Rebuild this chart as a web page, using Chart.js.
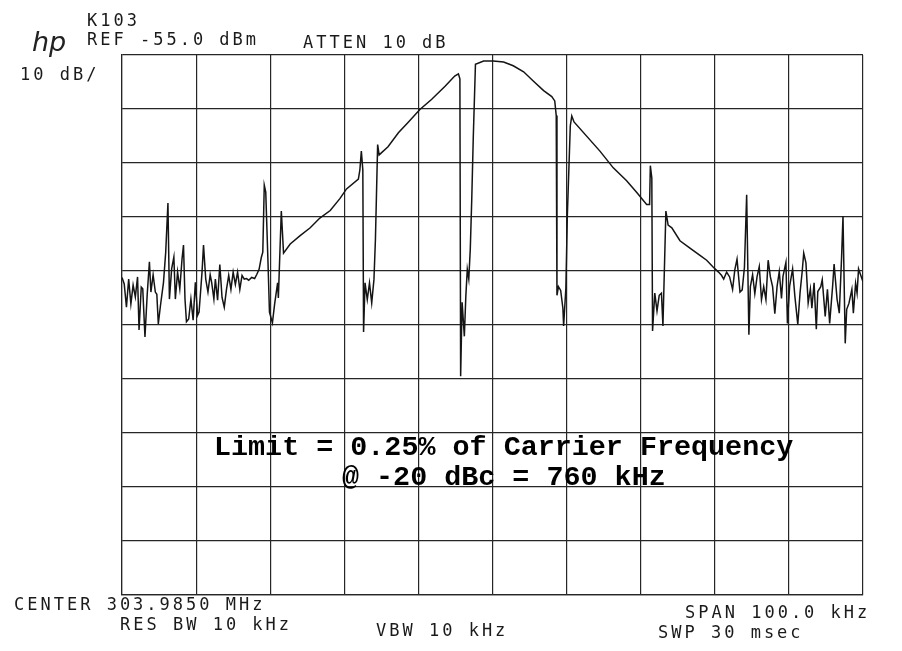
<!DOCTYPE html>
<html>
<head>
<meta charset="utf-8">
<script src="https://cdn.jsdelivr.net/npm/chart.js@4"></script>
<style>
  body { margin: 0; background: #fff; }
  #wrap { position: relative; width: 902px; height: 651px; }
  canvas { position: absolute; left: 0; top: 0; }
  .lbl {
    position: absolute; white-space: pre;
    font-family: "DejaVu Sans Mono", monospace; font-size: 17px;
    letter-spacing: 3px; color: #1a1a1a; line-height: 1;
  }
  .big {
    position: absolute; white-space: pre;
    font-family: "Liberation Mono", "Courier New", monospace; font-weight: bold;
    font-size: 28.4px; color: #000; line-height: 1;
  }
  #hp { position: absolute; left: 32px; top: 26px; font-family: "DejaVu Sans", sans-serif;
        font-style: italic; font-weight: 200; font-size: 27px; color: #222; }
</style>
</head>
<body>
<div id="wrap">
  <canvas id="sa" width="902" height="651"></canvas>
  <div id="hp">hp</div>
  <div class="lbl" style="left:87px;top:12px">K103</div>
  <div class="lbl" style="left:87px;top:31px">REF -55.0 dBm</div>
  <div class="lbl" style="left:303px;top:34px">ATTEN 10 dB</div>
  <div class="lbl" style="left:20px;top:66px">10 dB/</div>
  <div class="lbl" style="left:14px;top:596px">CENTER 303.9850 MHz</div>
  <div class="lbl" style="left:120px;top:616px">RES BW 10 kHz</div>
  <div class="lbl" style="left:376px;top:622px">VBW 10 kHz</div>
  <div class="lbl" style="left:685px;top:604px">SPAN 100.0 kHz</div>
  <div class="lbl" style="left:658px;top:624px">SWP 30 msec</div>
  <div class="big" style="left:214px;top:434px">Limit = 0.25% of Carrier Frequency</div>
  <div class="big" style="left:342px;top:464px">@ -20 dBc = 760 kHz</div>
</div>
<script>
// ---- Messwerte (Offset zur Mittenfrequenz in kHz, Pegel in dBm) ----
const REF_DBM   = -55;
const DB_PER_DIV = 10;
const SPAN_KHZ  = 100;

const freqKHz = [
  -50, -49.7, -49.4, -49.1, -48.8, -48.5, -48.2, -47.9, -47.7, -47.4,
  -47.2, -46.9, -46.6, -46.3, -46.1, -45.8, -45.5, -45.3, -45.1, -44.8,
  -44.4, -44.1, -43.8, -43.6, -43.3, -43.0, -42.8, -42.5, -42.2, -41.9,
  -41.7, -41.5, -41.3, -41.0, -40.7, -40.4, -40.1, -39.8, -39.6, -39.2,
  -39.0, -38.7, -38.4, -38.1, -37.9, -37.6, -37.4, -37.1, -36.8, -36.5,
  -36.2, -35.9, -35.6, -35.3, -35.0, -34.7, -34.4, -34.1, -33.8, -33.5,
  -33.2, -32.9, -32.5, -32.1, -31.8, -31.5, -31.2, -31.0, -30.8, -30.6,
  -30.3, -30.1, -29.7, -29.4, -29.0, -28.9, -28.5, -28.2,
  -27.3, -26.0, -24.6, -23.3, -21.9, -20.6, -19.7, -18.1, -17.9, -17.7,
  -17.5, -17.4, -17.2, -16.9, -16.6, -16.3, -16.0, -15.8, -15.5, -15.3,
  -14.1, -12.7, -11.4, -9.8, -8.2, -6.4, -5.1, -4.6, -4.4,
  -4.3, -4.1, -3.8, -3.6, -3.4, -3.2, -3.0, -2.8, -2.6, -2.3,
  -1.2, 0.1, 1.5, 2.8, 4.2, 5.5, 6.9, 8.0, 8.4, 8.6,
  8.7, 8.9, 9.2, 9.5, 9.6, 9.9, 10.1, 10.5, 10.7, 11.0,
  14.5, 16.3, 18.1, 19.5, 20.8, 21.2, 21.3, 21.5, 21.6, 21.9,
  22.2, 22.5, 22.8, 23.0, 23.4, 23.7, 24.2, 25.3, 26.6, 28.0,
  28.9, 29.8, 30.5, 30.9, 31.2, 31.6, 32.0, 32.4, 32.7, 33.0,
  33.4, 33.7, 34.0, 34.3, 34.6, 34.8, 35.1, 35.4, 35.7, 36.0,
  36.3, 36.6, 36.9, 37.2, 37.5, 37.8, 38.1, 38.4, 38.7, 39.0,
  39.2, 39.6, 39.8, 40.1, 40.5, 40.8, 41.2, 41.5, 41.8, 42.0,
  42.3, 42.6, 42.9, 43.1, 43.4, 43.7, 43.9, 44.3, 44.5, 44.9,
  45.2, 45.5, 45.9, 46.1, 46.5, 46.8, 47.1, 47.3, 47.4, 47.6,
  47.8, 48.1, 48.5, 48.7, 49.0, 49.2, 49.4, 49.6, 50
];

const levelDbm = [
  -96.2, -97.4, -101.7, -96.5, -101.1, -97.6, -99.8, -96.1, -105.9, -98.0,
  -98.3, -107.2, -99.4, -93.3, -98.9, -95.7, -98.9, -99.3, -104.8, -101.3,
  -97.1, -91.5, -82.4, -100.2, -94.6, -92.4, -100.2, -95.2, -98.3, -92.8,
  -90.2, -100.2, -104.4, -103.9, -100.2, -104.1, -97.1, -103.2, -102.6, -95.2,
  -90.2, -96.5, -98.9, -95.7, -97.1, -100.2, -96.5, -100.4, -93.8, -99.9,
  -101.7, -98.4, -95.8, -98.4, -95.2, -97.5, -95.2, -98.4, -95.8, -96.5,
  -96.4, -96.7, -96.2, -96.4, -95.6, -94.7, -92.5, -91.5, -79.1, -80.4,
  -93.3, -102.6, -104.6, -101.1, -97.2, -100.0, -83.9, -91.7,
  -90.0, -88.5, -87.0, -85.2, -83.8, -81.6, -79.8, -78.0, -76.3, -72.8,
  -76.3, -106.3, -97.2, -100.3, -97.2, -100.9, -96.6, -89.2, -71.6, -73.5,
  -72.0, -69.4, -67.5, -65.1, -63.2, -60.8, -58.9, -58.5, -59.4,
  -114.5, -100.8, -107.1, -99.7, -94.7, -96.5, -91.0, -81.7, -70.6, -56.7,
  -56.1, -56.1, -56.3, -57.0, -58.1, -59.8, -61.6, -62.7, -63.5, -66.2,
  -99.5, -97.9, -98.6, -101.9, -105.2, -98.2, -84.7, -68.1, -66.3, -67.4,
  -72.8, -75.9, -78.3, -80.5, -82.7, -82.7, -75.5, -77.8, -106.1, -99.1,
  -102.4, -99.5, -99.1, -105.2, -83.9, -86.5, -87.0, -89.4, -90.7, -92.1,
  -93.0, -94.3, -95.2, -95.8, -96.5, -95.2, -96.1, -98.4, -94.8, -92.8,
  -98.9, -98.5, -94.3, -80.9, -106.8, -97.9, -95.7, -99.2, -96.1, -94.2,
  -100.3, -97.9, -100.3, -93.0, -96.1, -97.9, -102.9, -97.9, -95.1, -100.1,
  -96.0, -93.4, -104.7, -97.8, -94.6, -99.6, -104.9, -99.1, -95.0, -91.7,
  -93.5, -100.9, -98.3, -101.9, -97.2, -105.8, -98.8, -97.9, -96.6, -103.4,
  -98.4, -104.7, -97.8, -93.7, -100.2, -102.8, -92.8, -84.8, -92.8, -108.4,
  -102.1, -101.0, -98.4, -102.8, -97.3, -99.1, -94.6, -95.4, -97.0
];

// ---- Chart ----
const gridOpts = { color: "#262626", lineWidth: 1.2, drawTicks: false };

function initChart() {
  const ctx = document.getElementById("sa").getContext("2d");
  const pts = freqKHz.map((f, i) => ({ x: f, y: levelDbm[i] }));
  new Chart(ctx, {
    type: "line",
    data: { datasets: [{
      data: pts,
      borderColor: "#141414",
      borderWidth: 1.5,
      pointRadius: 0,
      tension: 0,
      fill: false
    }]},
    options: {
      responsive: false,
      animation: false,
      layout: { padding: { left: 122, right: 39, top: 55, bottom: 56 } },
      plugins: { legend: { display: false }, tooltip: { enabled: false } },
      scales: {
        x: {
          type: "linear", min: -SPAN_KHZ / 2, max: SPAN_KHZ / 2,
          ticks: { display: false, stepSize: 10 },
          grid: gridOpts,
          border: { display: true, color: "#262626", width: 1.2 }
        },
        y: {
          type: "linear", min: REF_DBM - 10 * DB_PER_DIV, max: REF_DBM,
          ticks: { display: false, stepSize: DB_PER_DIV },
          grid: gridOpts,
          border: { display: true, color: "#262626", width: 1.2 }
        }
      }
    }
  });
}

window.addEventListener("load", initChart);
</script>
</body>
</html>
